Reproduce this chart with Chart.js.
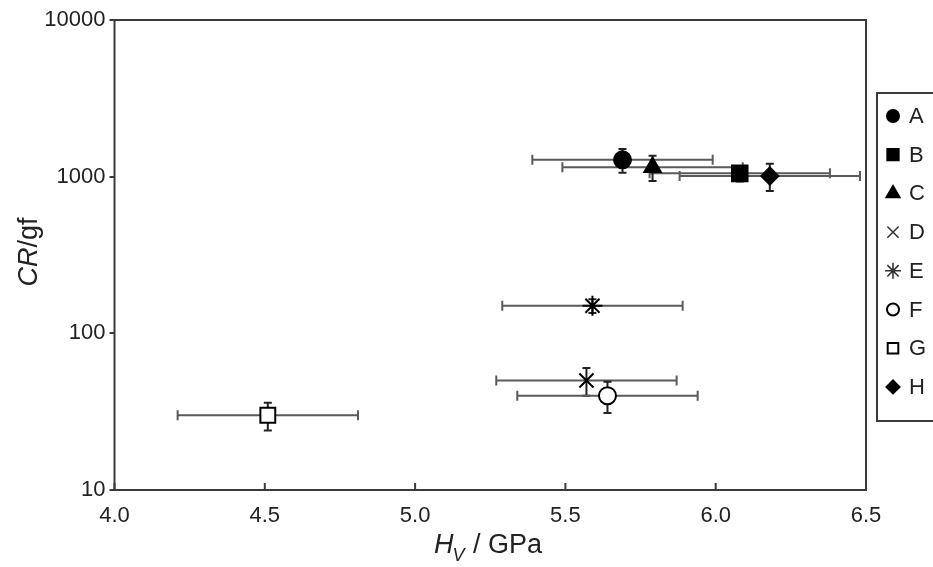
<!DOCTYPE html>
<html>
<head>
<meta charset="utf-8">
<script src="https://cdn.jsdelivr.net/npm/chart.js@4/dist/chart.umd.min.js"></script>
<style>
  html, body { margin: 0; padding: 0; background: #fff; overflow: hidden; }
  #wrap { width: 933px; height: 567px; }
</style>
</head>
<body>
<div id="wrap"><canvas id="c" width="933" height="567"></canvas></div>
<script>
// ---- data ----
const categories = ['A', 'B', 'C', 'D', 'E', 'F', 'G', 'H'];
const hv        = [5.69, 6.08, 5.79, 5.57, 5.59, 5.64, 4.51, 6.18];   // GPa
const hvErr     = [0.30, 0.30, 0.30, 0.30, 0.30, 0.30, 0.30, 0.30];
const cr        = [1280, 1050, 1150, 50, 150, 40, 30, 1010];          // gf
const crErr     = [220, 120, 210, 10, 15, 9, 6, 200];
const xTickValues = [4.0, 4.5, 5.0, 5.5, 6.0, 6.5];
const yTickValues = [10, 100, 1000, 10000];

// ---- styles ----
const pointStyles = ['circle', 'rect', 'triangle', 'crossRot', 'star', 'circle', 'rect', 'rectRot'];
const fills       = ['#000', '#000', '#000', '#000', '#000', '#fff', '#fff', '#000'];
const radii       = [8.5, 11, 9.5, 10, 10, 8.5, 10.5, 8.5];
const legendRadii = [6, 8, 7.5, 8, 8, 6, 7.5, 6.5];
const FONT = '"Liberation Sans", Arial, Helvetica, sans-serif';

const datasets = categories.map((name, i) => ({
  label: name,
  data: [{ x: hv[i], y: cr[i] }],
  pointStyle: pointStyles[i],
  pointRadius: radii[i],
  pointHoverRadius: radii[i],
  backgroundColor: fills[i],
  borderColor: '#000',
  pointBorderWidth: 2,
  showLine: false
}));

const errorBars = {
  id: 'errorBars',
  beforeDatasetsDraw(chart) {
    const { ctx, scales: { x, y } } = chart;
    ctx.save();
    categories.forEach((_, i) => {
      const px = x.getPixelForValue(hv[i]);
      const py = y.getPixelForValue(cr[i]);
      const xl = x.getPixelForValue(hv[i] - hvErr[i]);
      const xr = x.getPixelForValue(hv[i] + hvErr[i]);
      const yt = y.getPixelForValue(cr[i] + crErr[i]);
      const yb = y.getPixelForValue(cr[i] - crErr[i]);
      ctx.lineWidth = 2;
      ctx.strokeStyle = '#5a5a5a';
      ctx.beginPath();
      ctx.moveTo(xl, py); ctx.lineTo(xr, py);
      ctx.moveTo(xl, py - 5); ctx.lineTo(xl, py + 5);
      ctx.moveTo(xr, py - 5); ctx.lineTo(xr, py + 5);
      ctx.stroke();
      ctx.strokeStyle = '#222';
      ctx.beginPath();
      ctx.moveTo(px, yt); ctx.lineTo(px, yb);
      ctx.moveTo(px - 4, yt); ctx.lineTo(px + 4, yt);
      ctx.moveTo(px - 4, yb); ctx.lineTo(px + 4, yb);
      ctx.stroke();
    });
    ctx.restore();
  }
};

function drawMarker(ctx, i, cx, cy, r) {
  const opts = { pointStyle: pointStyles[i], radius: r, rotation: 0, borderWidth: 2 };
  ctx.fillStyle = fills[i];
  ctx.strokeStyle = (i === 3 || i === 4) ? '#333' : '#000';
  ctx.lineWidth = (i === 3 || i === 4) ? 1.6 : 2;
  if (Chart.helpers && Chart.helpers.drawPoint) {
    Chart.helpers.drawPoint(ctx, opts, cx, cy);
  }
}

const frame = {
  id: 'frame',
  afterDraw(chart) {
    const { ctx, chartArea: a, scales: { x } } = chart;
    ctx.save();
    // plot box
    ctx.strokeStyle = '#3a3a3a';
    ctx.lineWidth = 2;
    ctx.strokeRect(a.left, a.top, a.right - a.left, a.bottom - a.top);
    // inward x ticks
    ctx.beginPath();
    xTickValues.forEach(v => {
      const px = x.getPixelForValue(v);
      ctx.moveTo(px, a.bottom); ctx.lineTo(px, a.bottom - 7);
    });
    ctx.stroke();

    // y axis title: CR/gf
    ctx.fillStyle = '#222';
    ctx.textBaseline = 'alphabetic';
    ctx.save();
    ctx.translate(37, 252);
    ctx.rotate(-Math.PI / 2);
    const fItal = 'italic 27px ' + FONT, fReg = '27px ' + FONT;
    ctx.font = fItal; const w1 = ctx.measureText('CR').width;
    ctx.font = fReg;  const w2 = ctx.measureText('/gf').width;
    let sx = -(w1 + w2) / 2;
    ctx.font = fItal; ctx.textAlign = 'left'; ctx.fillText('CR', sx, 0);
    ctx.font = fReg; ctx.fillText('/gf', sx + w1, 0);
    ctx.restore();

    // x axis title: H_V / GPa
    let tx = 434;
    const by = 553;
    ctx.textAlign = 'left';
    ctx.font = 'italic 27px ' + FONT;
    ctx.fillText('H', tx, by); tx += ctx.measureText('H').width;
    ctx.font = 'italic 18px ' + FONT;
    ctx.fillText('V', tx - 1, by + 8); tx += ctx.measureText('V').width;
    ctx.font = '27px ' + FONT;
    ctx.fillText(' / GPa', tx, by);

    // legend
    const lx = 877, ly = 93, lw = 70, lh = 328;
    ctx.strokeStyle = '#3a3a3a';
    ctx.lineWidth = 2;
    ctx.strokeRect(lx, ly, lw, lh);
    ctx.font = '22px ' + FONT;
    ctx.textBaseline = 'middle';
    categories.forEach((name, i) => {
      const cy = 116 + i * 38.7;
      drawMarker(ctx, i, 893, cy, legendRadii[i]);
      ctx.fillStyle = '#222';
      ctx.fillText(name, 909, cy + 1);
    });
    ctx.restore();
  }
};

new Chart(document.getElementById('c'), {
  type: 'scatter',
  data: { datasets },
  options: {
    responsive: false,
    animation: false,
    devicePixelRatio: 1,
    layout: { padding: { top: 20, right: 67, left: 0, bottom: 0 } },
    plugins: { legend: { display: false }, tooltip: { enabled: false } },
    scales: {
      x: {
        type: 'linear',
        min: 4.0, max: 6.5,
        afterBuildTicks: s => { s.ticks = xTickValues.map(v => ({ value: v })); },
        afterFit: s => { s.height = 77; },
        grid: { display: false, drawTicks: false },
        border: { display: false },
        ticks: {
          padding: 13,
          color: '#222',
          font: { family: FONT, size: 22 },
          callback: v => Number(v).toFixed(1)
        }
      },
      y: {
        type: 'logarithmic',
        min: 10, max: 10000,
        afterBuildTicks: s => { s.ticks = yTickValues.map(v => ({ value: v })); },
        afterFit: s => { s.width = 114.5; },
        grid: { display: true, drawOnChartArea: false, drawTicks: true, tickLength: 5, color: '#3a3a3a', lineWidth: 2 },
        border: { display: false },
        ticks: {
          padding: 4,
          color: '#222',
          font: { family: FONT, size: 22 },
          callback: v => String(v)
        }
      }
    }
  },
  plugins: [errorBars, frame]
});
</script>
</body>
</html>
